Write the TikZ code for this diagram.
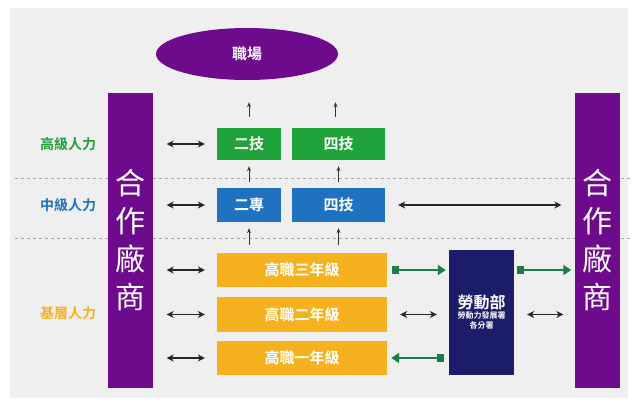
\documentclass[tikz,border=0pt]{standalone}
\usepackage{fontspec}
\setmainfont{Noto Sans CJK TC}[BoldFont={Noto Sans CJK TC Bold}]
\usetikzlibrary{shapes.geometric, arrows.meta}
\definecolor{factory}{HTML}{6E0A8C}
\definecolor{highgreen}{HTML}{1FA33A}
\definecolor{midblue}{HTML}{1F72C0}
\definecolor{baseorange}{HTML}{F5B21E}
\definecolor{labournavy}{HTML}{1B1C6A}
\definecolor{flowgreen}{HTML}{1E7B4A}
\definecolor{panel}{HTML}{EFEFEF}

\begin{document}
\begin{tikzpicture}[x=1pt,y=-1pt,
	box/.style={inner sep=0pt, text=white, font=\fontsize{15}{17}\selectfont\bfseries},
	level/.style={font=\fontsize{14}{16}\selectfont\bfseries},
	bar/.style={fill=factory, minimum width=45pt, minimum height=295pt, inner sep=0pt,
		text=white, align=center, font=\fontsize{30}{38}\selectfont},
	both/.style={{Stealth[length=7pt,width=7pt]}-{Stealth[length=7pt,width=7pt]}, line width=1.5pt, black!85},
	up/.style={-{Stealth[length=5pt,width=4pt]}, line width=0.9pt, black!80},
	flow/.style={{Square[length=7pt,width=8pt]}-{Triangle[length=8pt,width=10pt]}, line width=1.8pt, flowgreen},
	sep/.style={dashed, gray!70, line width=0.6pt}
	]
	\useasboundingbox (0,0) rectangle (635,407);
	\fill[panel] (10,8) rectangle (628,398);

	% level separators
	\draw[sep] (15,178) -- (630,178);
	\draw[sep] (15,238) -- (630,238);

	% nodes
	\node[ellipse, fill=factory, minimum width=182pt, minimum height=52pt, inner sep=0pt,
		text=white, font=\fontsize{15}{17}\selectfont\bfseries] (job) at (247,54) {職場};
	\node[bar] (left) at (130,240) {合\\作\\廠\\商};
	\node[bar] (right) at (597,240) {合\\作\\廠\\商};

	\node[box, fill=highgreen, minimum width=64pt, minimum height=32pt] (g2) at (249,144) {二技};
	\node[box, fill=highgreen, minimum width=93pt, minimum height=32pt] (g4) at (338.5,144) {四技};
	\node[box, fill=midblue, minimum width=64pt, minimum height=34pt] (b2) at (249,205) {二專};
	\node[box, fill=midblue, minimum width=93pt, minimum height=34pt] (b4) at (338.5,205) {四技};
	\node[box, fill=baseorange, minimum width=170pt, minimum height=34pt] (o3) at (302,270) {高職三年級};
	\node[box, fill=baseorange, minimum width=170pt, minimum height=35pt] (o2) at (302,314.5) {高職二年級};
	\node[box, fill=baseorange, minimum width=170pt, minimum height=34pt] (o1) at (302,358) {高職一年級};
	\node[fill=labournavy, minimum width=65pt, minimum height=125pt, inner sep=0pt, text=white,
		align=center, font=\bfseries] (labour) at (481.5,312.5)
		{{\fontsize{16}{24}\selectfont 勞動部}\\[-2pt]{\fontsize{8}{12}\selectfont 勞動力發展署}\\[-2pt]{\fontsize{8}{12}\selectfont 各分署}};

	\node[level, text=highgreen] (lhigh) at (68,144) {高級人力};
	\node[level, text=midblue] (lmid) at (68,205) {中級人力};
	\node[level, text=baseorange] (lbase) at (68,313) {基層人力};

	% arrows up
	\draw[up, shorten <=11pt, shorten >=22pt] (g2.north) -- (g2.north |- job.south);
	\draw[up, shorten <=11pt, shorten >=22pt] ([xshift=-3pt]g4.north) -- ([xshift=-3pt]g4.north |- job.south);
	\draw[up, shorten <=6pt, shorten >=6pt] (b2.north) -- (g2.south);
	\draw[up, shorten <=6pt, shorten >=6pt] (b4.north) -- (g4.south);
	\draw[up, shorten <=8pt, shorten >=6pt] (b2.south |- o3.north) -- (b2.south);
	\draw[up, shorten <=8pt, shorten >=6pt] (b4.south |- o3.north) -- (b4.south);

	% factory links
	\foreach \n in {g2,b2,o3,o2,o1}
		\draw[both, shorten <=14pt, shorten >=12pt] (left.east |- \n) -- (\n.west);
	\draw[both, shorten <=13pt, shorten >=13pt] (b4.east) -- (right.west |- b4);
	\draw[both, shorten <=13pt, shorten >=12pt] (o2.east) -- (labour.west |- o2);
	\draw[both, shorten <=13pt, shorten >=11pt] (labour.east |- o2) -- (right.west |- o2);

	% labour flows
	\draw[flow, shorten <=5pt, shorten >=3pt] (o3.east) -- (labour.west |- o3);
	\draw[flow, shorten <=3pt, shorten >=3pt] (labour.east |- o3) -- (right.west |- o3);
	\draw[flow, shorten <=5pt, shorten >=4pt] (labour.west |- o1) -- (o1.east);
\end{tikzpicture}
\end{document}
